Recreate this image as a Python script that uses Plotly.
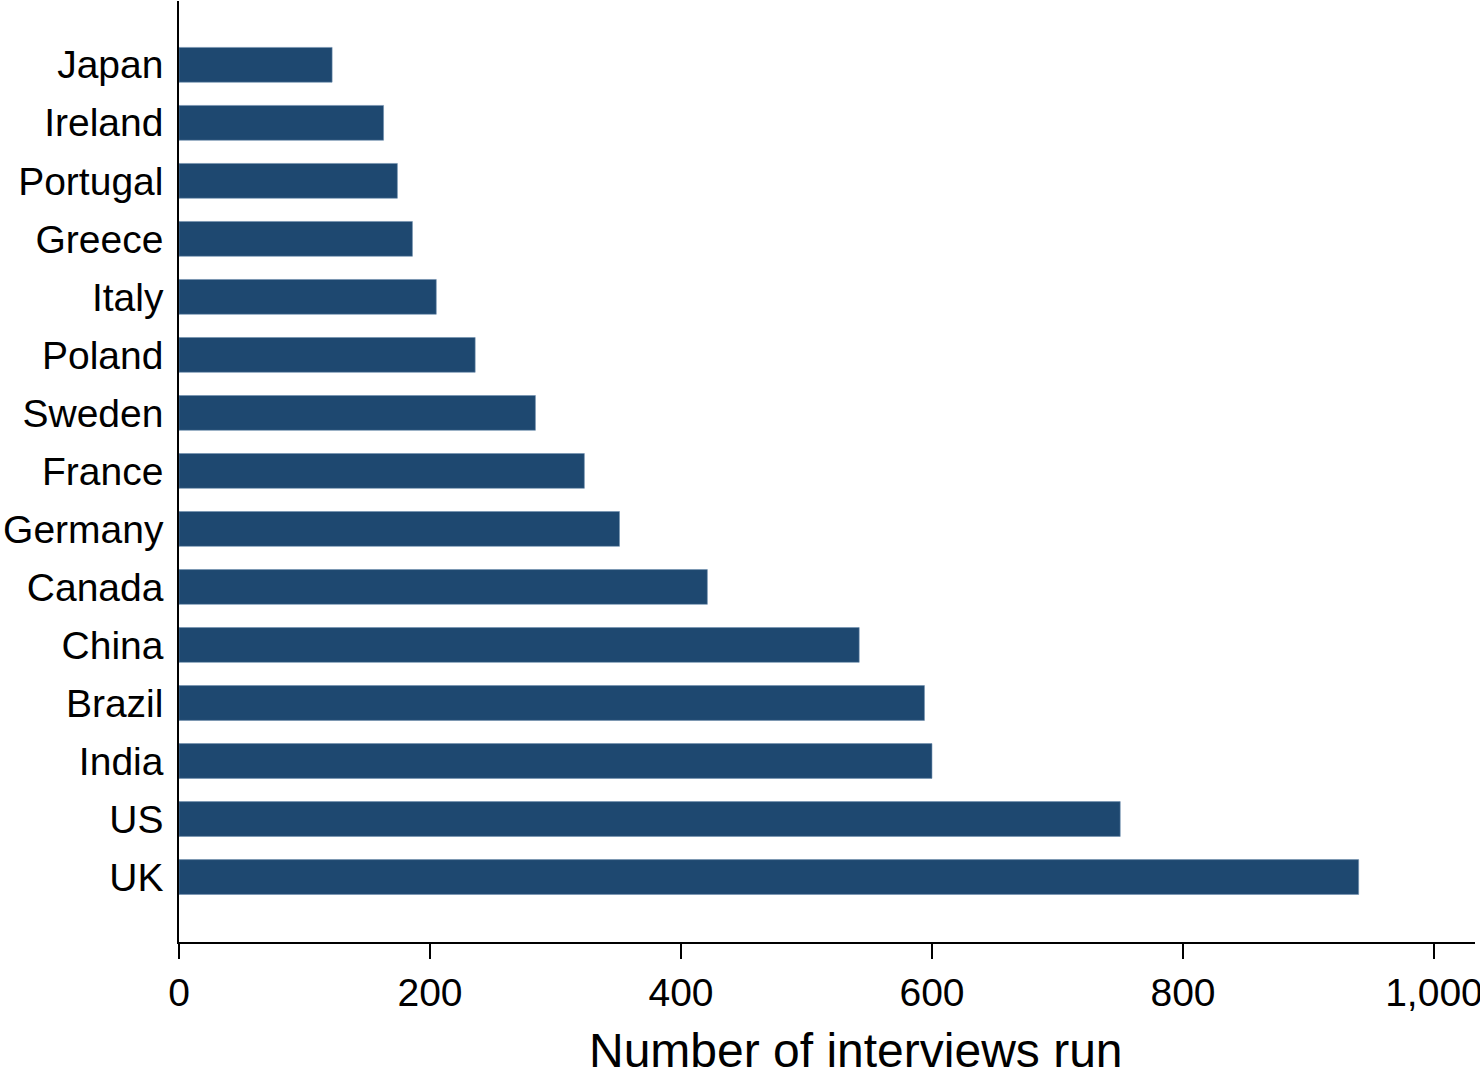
import plotly.graph_objects as go

countries = ["Japan", "Ireland", "Portugal", "Greece", "Italy", "Poland", "Sweden",
             "France", "Germany", "Canada", "China", "Brazil", "India", "US", "UK"]
interviews = [122, 163, 174, 186, 205, 236, 284, 323, 351, 421, 542, 594, 600, 750, 940]
x_ticks = [0, 200, 400, 600, 800, 1000]

BAR = "#1e4870"
FONT = "Liberation Sans, Arial, sans-serif"

fig = go.Figure(go.Bar(
    x=interviews, y=countries, orientation="h",
    marker=dict(color=BAR, line=dict(color="#6f8fae", width=0.6)),
    width=0.6,
))

fig.update_layout(
    width=1480, height=1071,
    margin=dict(l=179, r=5, t=1, b=129),
    paper_bgcolor="white", plot_bgcolor="white",
    font=dict(family=FONT, size=39, color="black"),
    showlegend=False,
    xaxis=dict(
        range=[0, 1032.7], tickvals=x_ticks, tickformat=",",
        ticks="outside", ticklen=15, tickwidth=1.5, tickcolor="black",
        showline=True, linecolor="black", linewidth=1.5,
        showgrid=False, zeroline=False, automargin=False,
        ticklabeloverflow="allow",
        tickfont=dict(size=39),
    ),
    yaxis=dict(
        categoryorder="array", categoryarray=countries,
        range=[14 + 1.12, -1.1],
        ticks="", showline=True, linecolor="black", linewidth=1.5,
        showgrid=False, zeroline=False, automargin=False,
        ticklabelstandoff=6, tickfont=dict(size=39),
    ),
    annotations=[dict(
        text="Number of interviews run", xref="paper", yref="paper",
        x=0.522, y=-0.1148, xanchor="center", yanchor="middle",
        showarrow=False, font=dict(size=48, family=FONT, color="black"),
    )],
)

fig.write_html("out.html", config={"displayModeBar": False},
               post_script="document.body.style.margin='0';document.body.style.overflow='hidden';")
